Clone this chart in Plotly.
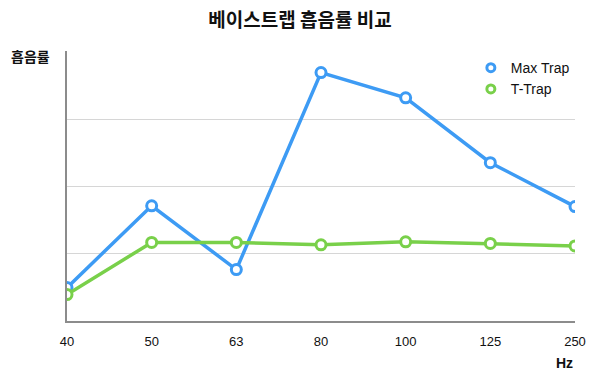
import plotly.graph_objects as go

categories = ["40", "50", "63", "80", "100", "125", "250"]
max_trap = [0.124, 0.428, 0.191, 0.923, 0.829, 0.588, 0.425]
t_trap = [0.098, 0.292, 0.292, 0.283, 0.294, 0.288, 0.279]
y_ticks = [0, 0.25, 0.5, 0.75, 1.0]

BLUE = "#3d9bf4"
GREEN = "#79d04a"

# page body has an 8px default margin, so the figure is sized to fit the 600x382 window
W, H = 592, 374
L, R, T, B = 59, 25, 43, 61

fig = go.Figure()
for name, vals, col in [("Max Trap", max_trap, BLUE), ("T-Trap", t_trap, GREEN)]:
    fig.add_trace(go.Scatter(
        x=categories, y=vals, name=name, mode="lines+markers", showlegend=False,
        line=dict(color=col, width=3.5),
        marker=dict(symbol="circle", size=10, color="white",
                    line=dict(color=col, width=3)),
    ))
for name, col in [("Max Trap", BLUE), ("T-Trap", GREEN)]:
    fig.add_trace(go.Scatter(
        x=[None], y=[None], name=name, mode="markers", showlegend=True,
        marker=dict(symbol="circle", size=8, color="white",
                    line=dict(color=col, width=3)),
    ))

fig.update_layout(
    width=W, height=H,
    margin=dict(l=L, r=R, t=T, b=B),
    paper_bgcolor="white", plot_bgcolor="white",
    font=dict(family="Liberation Sans, Arial, sans-serif", size=13, color="#111"),
    title=dict(text="<b>베이스트랩 흡음률 비교</b>", x=292 / W, xanchor="center",
               xref="container", y=1 - 12.5 / H, yanchor="middle",
               font=dict(family="Noto Sans CJK KR", size=19, color="#111")),
    showlegend=True,
    legend=dict(x=0.795, y=0.996, xanchor="left", yanchor="top",
                bgcolor="rgba(0,0,0,0)", font=dict(size=14, color="#111"),
                tracegroupgap=0),
    xaxis=dict(type="category", range=[0, 6], showgrid=False,
               showline=True, linecolor="#8c8c8c", linewidth=1.5,
               ticks="", tickfont=dict(size=13, color="#111"), ticklabelstandoff=8,
               fixedrange=True),
    yaxis=dict(range=[0, 1.003], tickvals=y_ticks, showticklabels=False,
               showgrid=True, gridcolor="#d6d6d6", gridwidth=1,
               showline=True, linecolor="#8c8c8c", linewidth=1.5,
               zeroline=False, ticks=""),
)

fig.add_annotation(text="<b>흡음률</b>", xref="paper", yref="paper",
                   x=-0.114, y=0.981, xanchor="left", yanchor="middle", showarrow=False,
                   font=dict(family="Noto Sans CJK KR", size=14, color="#111"))
fig.add_annotation(text="<b>Hz</b>", xref="paper", yref="paper",
                   x=1.0, y=-0.12, xanchor="right", yanchor="top", showarrow=False,
                   font=dict(family="Liberation Sans, Arial", size=14, color="#111"))

fig.write_html("out.html")
